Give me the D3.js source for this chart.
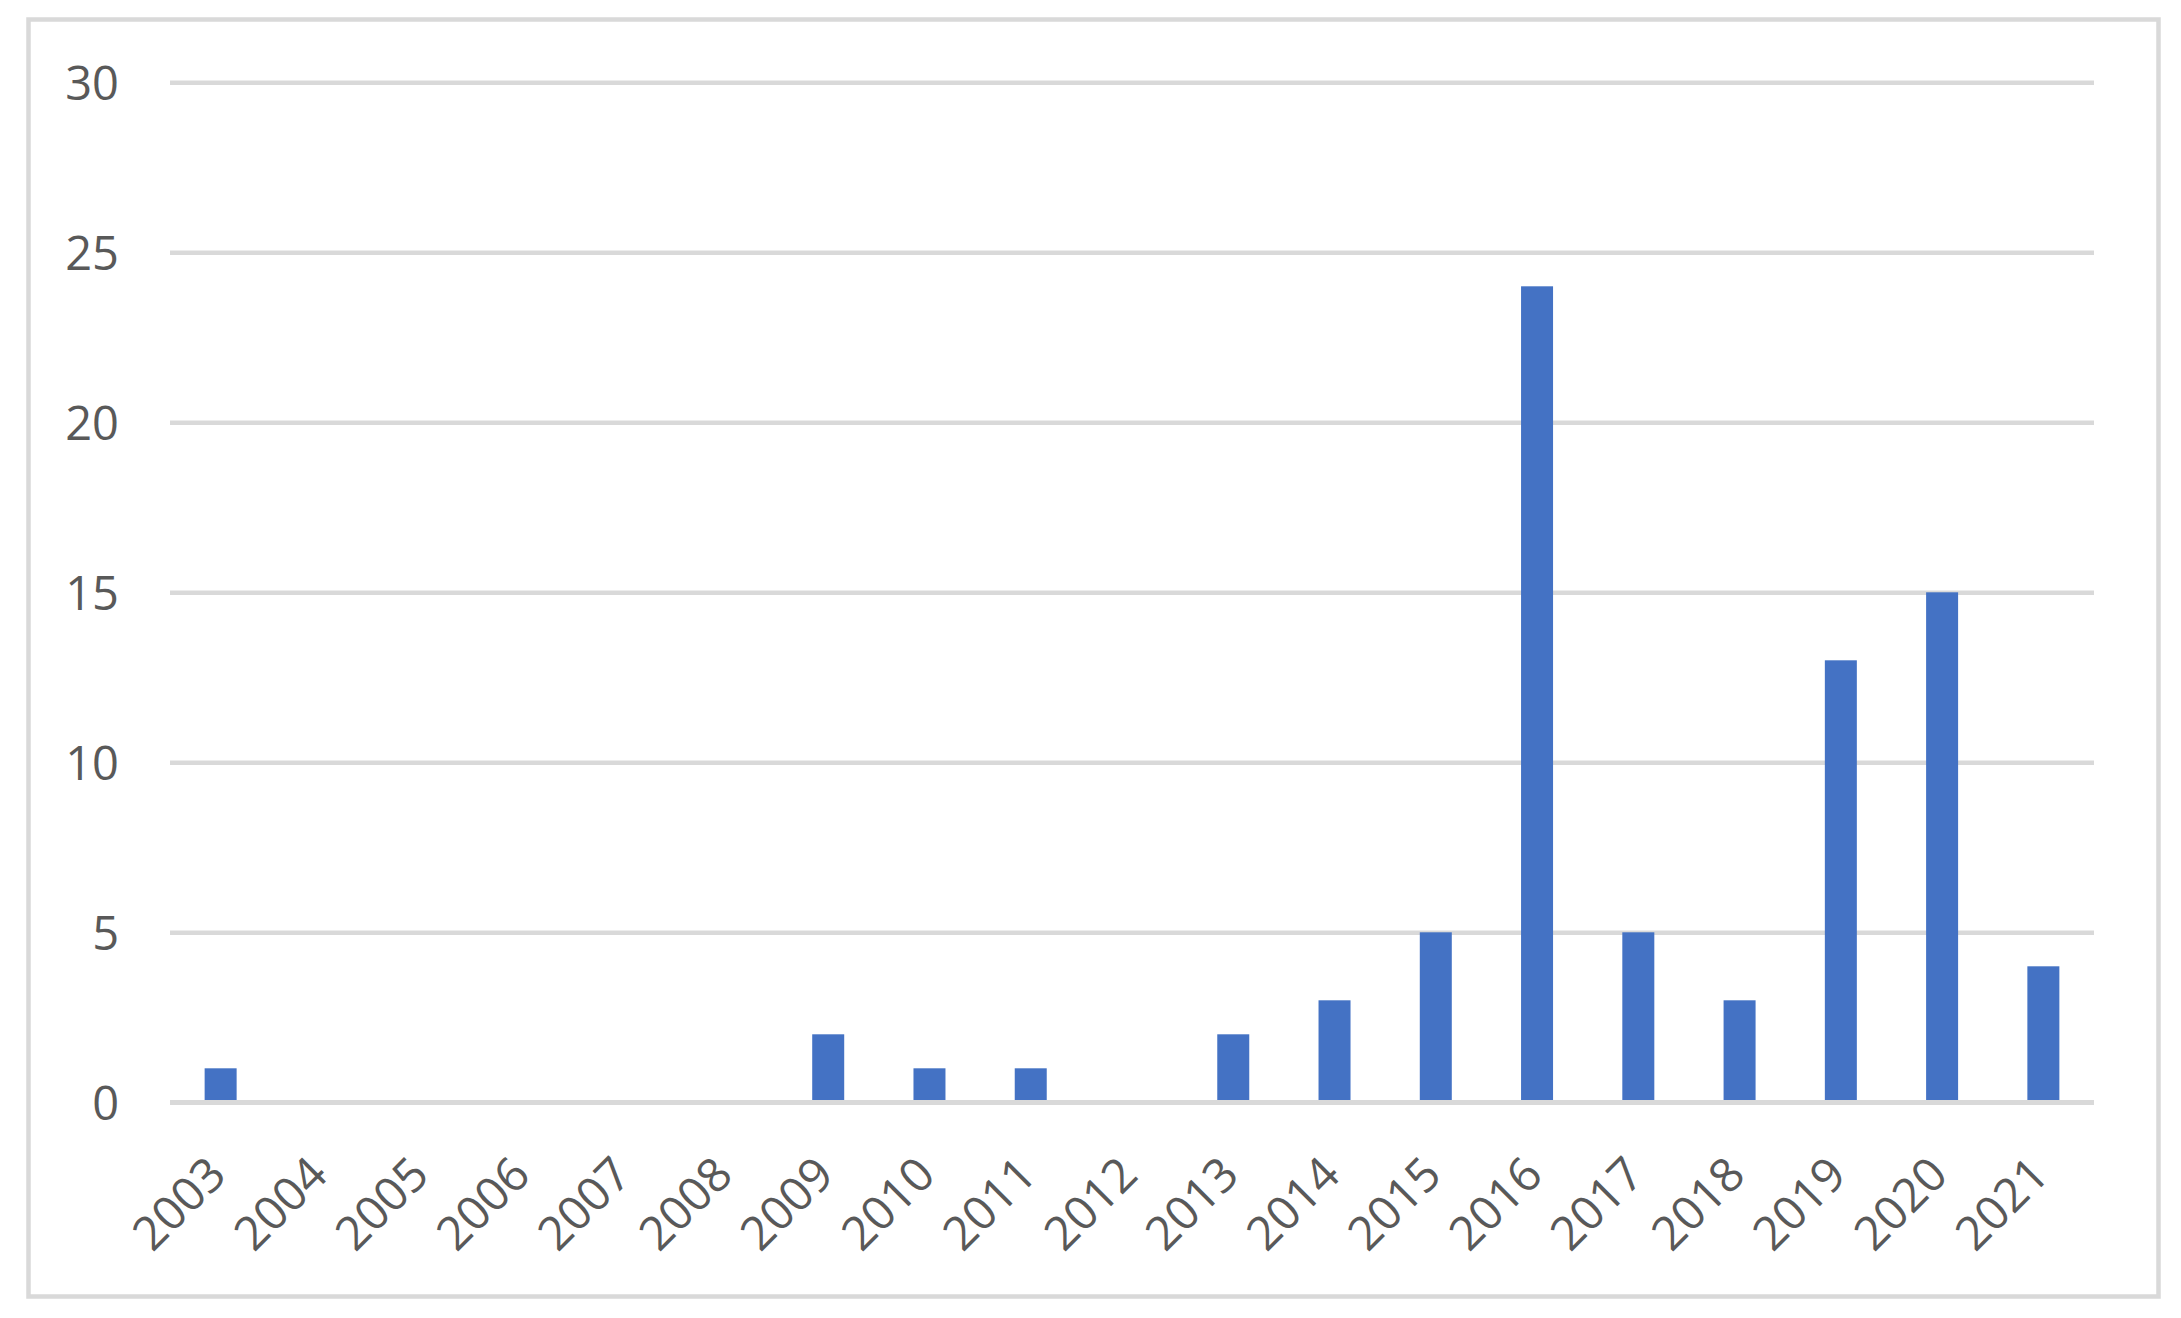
<!DOCTYPE html>
<html><head><meta charset="utf-8">
<script src="https://cdn.jsdelivr.net/npm/d3@7"></script>
<style>html,body{margin:0;padding:0;background:#fff;}svg{display:block;}</style>
</head><body>
<svg id="c" width="2181" height="1318"></svg>
<script>
const categories = ["2003","2004","2005","2006","2007","2008","2009","2010","2011","2012","2013","2014","2015","2016","2017","2018","2019","2020","2021"];
const values = [1,0,0,0,0,0,2,1,1,0,2,3,5,24,5,3,13,15,4];
const yTicks = [0,5,10,15,20,25,30];

const svg = d3.select("#c");
const W = 2181, H = 1318;
const m = {left:170, right:W-2094, top:82.3, bottom:H-1102.3};
const font = "'Open Sans', 'Segoe UI', Calibri, sans-serif";
const txt = "#595959";

svg.append("rect").attr("x",28.5).attr("y",19.5).attr("width",2130).attr("height",1277)
  .attr("fill","#fff").attr("stroke","#d9d9d9").attr("stroke-width",4.5);

const x = d3.scaleBand().domain(categories).range([m.left, W-m.right]).paddingInner(0.684).paddingOuter(0.342);
const y = d3.scaleLinear().domain([0,30]).range([H-m.bottom, m.top]);

// gridlines
const yAxis = d3.axisLeft(y).tickValues(yTicks).tickSize(-(W-m.left-m.right)).tickPadding(51).tickFormat(d3.format("d"));
const gy = svg.append("g").attr("transform",`translate(${m.left},0)`).call(yAxis);
gy.select(".domain").remove();
gy.selectAll(".tick line").attr("stroke","#d9d9d9").attr("stroke-width",4.5);
gy.selectAll(".tick text").attr("fill",txt).attr("font-family",font).attr("font-size",47).attr("dy","0.36em");

// bars
svg.append("g").selectAll("rect").data(categories).join("rect")
  .attr("x",d=>x(d)).attr("width",x.bandwidth())
  .attr("y",(d,i)=>y(values[i])).attr("height",(d,i)=>y(0)-y(values[i]))
  .attr("fill","#4472C4");

// zero axis line on top
svg.append("line").attr("x1",m.left).attr("x2",W-m.right).attr("y1",y(0)).attr("y2",y(0))
  .attr("stroke","#d9d9d9").attr("stroke-width",4.5);

// x labels
const xAxis = d3.axisBottom(x).tickSize(0).tickPadding(0);
const gx = svg.append("g").attr("transform",`translate(0,${y(0)})`).call(xAxis);
gx.select(".domain").remove();
gx.selectAll(".tick text")
  .attr("fill",txt).attr("font-family",font).attr("font-size",47)
  .attr("text-anchor","end").attr("dy",0).attr("y",0)
  .attr("transform","translate(8,75) rotate(-45)");
</script>
</body></html>
